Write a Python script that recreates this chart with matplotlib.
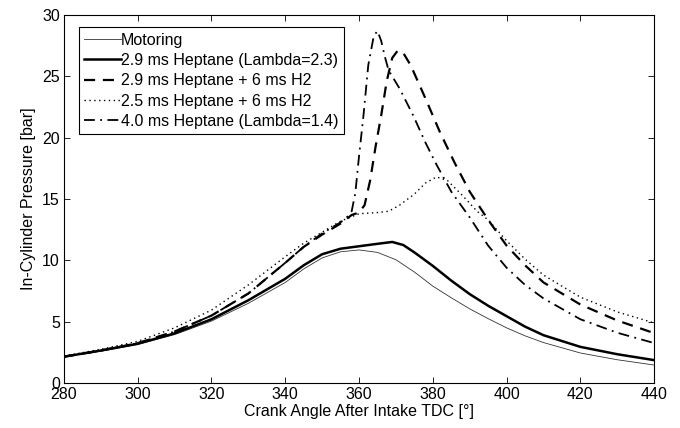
import matplotlib
matplotlib.use("Agg")
import matplotlib.pyplot as plt

plt.rcParams['font.family'] = ['Liberation Sans', 'DejaVu Sans']

# crank angle / pressure pairs
mot_x = [280, 290, 300, 310, 320, 330, 340, 345, 350, 355, 360, 365, 370, 375,
         380, 385, 390, 395, 400, 405, 410, 420, 430, 440]
mot_p = [2.15, 2.6, 3.15, 3.95, 5.05, 6.5, 8.2, 9.3, 10.2, 10.7, 10.85, 10.65, 10.05, 9.05,
         7.9, 6.95, 6.05, 5.25, 4.5, 3.85, 3.3, 2.45, 1.9, 1.47]

hep_x = [280, 290, 300, 310, 320, 330, 340, 345, 350, 355, 360, 365, 369, 372, 375,
         380, 385, 390, 395, 400, 405, 410, 420, 430, 440]
hep_p = [2.15, 2.65, 3.2, 4.05, 5.2, 6.75, 8.5, 9.6, 10.5, 10.95, 11.15, 11.35, 11.5, 11.25, 10.65,
         9.55, 8.35, 7.25, 6.3, 5.45, 4.6, 3.9, 2.95, 2.35, 1.87]

h2_x = [280, 290, 300, 310, 320, 330, 340, 345, 350, 355, 358, 360, 361.5, 363, 364.5,
        366, 367.5, 369, 370.5, 372, 374, 378, 382, 386, 390, 395, 400, 405, 410, 420, 430, 440]
h2_p = [2.15, 2.65, 3.25, 4.2, 5.5, 7.3, 9.8, 11.1, 12.1, 13.0, 13.7, 13.9, 14.5, 16.5, 19.3,
        21.8, 24.6, 26.5, 27.1, 26.9, 25.9, 23.2, 20.4, 17.9, 15.6, 13.3, 11.2, 9.6, 8.2, 6.4, 5.1, 4.07]

h2b_x = [280, 290, 300, 310, 320, 330, 340, 345, 350, 355, 360, 365, 368, 371, 375,
         378, 381, 384, 388, 392, 395, 400, 405, 410, 420, 430, 440]
h2b_p = [2.2, 2.75, 3.4, 4.5, 5.95, 8.0, 10.3, 11.4, 12.3, 13.2, 13.8, 13.9, 14.0, 14.5, 15.4,
         16.3, 16.8, 16.5, 15.3, 14.0, 13.3, 11.6, 10.1, 8.8, 7.0, 5.8, 4.9]

rich_x = [280, 290, 300, 310, 320, 330, 340, 345, 350, 355, 357, 358, 359, 360, 361.2,
          362.5, 364, 365, 366, 367, 368, 371, 374.7, 378, 381, 385, 390, 395, 400, 405,
          410, 420, 430, 440]
rich_p = [2.15, 2.65, 3.25, 4.2, 5.5, 7.3, 9.8, 11.1, 12.2, 13.1, 13.6, 14.0, 15.5, 18.5, 21.8,
          25.9, 28.3, 28.7, 27.9, 26.6, 25.5, 24.0, 21.8, 19.6, 17.8, 15.6, 13.5, 11.2, 9.4, 8.0,
          6.9, 5.2, 4.1, 3.26]

labels = ['Motoring', '2.9 ms Heptane (Lambda=2.3)', '2.9 ms Heptane + 6 ms H2',
          '2.5 ms Heptane + 6 ms H2', '4.0 ms Heptane (Lambda=1.4)']

fs = 11.5

fig = plt.figure(figsize=(6.8, 4.28), dpi=100)
ax = fig.add_axes([0.094, 0.105, 0.868, 0.86])

ax.plot(mot_x, mot_p, color='#333333', lw=0.6, ls='-', label=labels[0])
ax.plot(hep_x, hep_p, color='black', lw=1.8, ls='-', label=labels[1])
ax.plot(h2_x, h2_p, color='black', lw=1.6, ls=(0, (5, 3.5)), label=labels[2])
ax.plot(h2b_x, h2b_p, color='black', lw=1.0, ls=(0, (1, 2.5)), label=labels[3])
ax.plot(rich_x, rich_p, color='black', lw=1.3, ls=(0, (6, 3, 1, 3)), label=labels[4])

ax.set_xlim(280, 440)
ax.set_ylim(0, 30)
ax.set_xticks(range(280, 441, 20))
ax.set_yticks(range(0, 31, 5))
ax.tick_params(direction='in', top=True, right=True, length=4, width=0.6, labelsize=fs, pad=3)
for s in ax.spines.values():
    s.set_linewidth(0.8)

ax.set_xlabel('Crank Angle After Intake TDC [°]', fontsize=fs, labelpad=1)
ax.set_ylabel('In-Cylinder Pressure [bar]', fontsize=fs, labelpad=4)

leg = ax.legend(loc='upper left', bbox_to_anchor=(0.025, 0.967), borderaxespad=0,
                fontsize=fs, handlelength=2.3, handletextpad=0.0, labelspacing=0.33,
                borderpad=0.35, fancybox=False, framealpha=1, edgecolor='black')
leg.get_frame().set_linewidth(0.8)

fig.savefig('out.png', dpi=100)
